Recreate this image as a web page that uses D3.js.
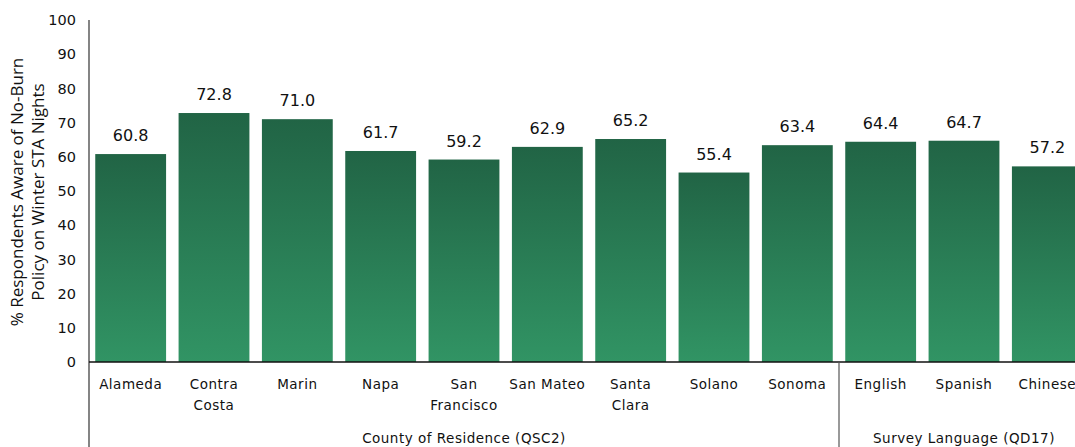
<!DOCTYPE html>
<html><head><meta charset="utf-8">
<script src="https://cdn.jsdelivr.net/npm/d3@7"></script>
<style>body{margin:0;background:#fff}svg{display:block}text{font-family:"DejaVu Sans",sans-serif;fill:#111}</style>
</head><body><svg id="c" width="1075" height="447"></svg>
<script>
const categories = [["Alameda"],["Contra","Costa"],["Marin"],["Napa"],["San","Francisco"],["San Mateo"],["Santa","Clara"],["Solano"],["Sonoma"],["English"],["Spanish"],["Chinese"]];
const values = [60.8,72.8,71.0,61.7,59.2,62.9,65.2,55.4,63.4,64.4,64.7,57.2];
const groups = ["County of Residence (QSC2)","Survey Language (QD17)"];
const groupSizes = [9,3];
const yTicks = [0,10,20,30,40,50,60,70,80,90,100];
const yTitle = ["% Respondents Aware of No-Burn","Policy on Winter STA Nights"];

(function(){
const svg = d3.select("#c");
const mL = 89, mR = 1089, mT = 20, mB = 362;
const idx = d3.range(values.length);
const x = d3.scaleBand().domain(idx).range([mL,mR]).paddingInner(0.15).paddingOuter(0.075);
const y = d3.scaleLinear().domain([0,100]).range([mB,mT]);

const defs = svg.append("defs");
const g = defs.append("linearGradient").attr("id","bg").attr("x1",0).attr("y1",0).attr("x2",0).attr("y2",1);
g.append("stop").attr("offset","0%").attr("stop-color","#216445");
g.append("stop").attr("offset","100%").attr("stop-color","#319464");

svg.append("g").selectAll("rect").data(values).join("rect")
  .attr("x",(d,i)=>x(i)).attr("width",x.bandwidth())
  .attr("y",d=>y(d)).attr("height",d=>y(0)-y(d)).attr("fill","url(#bg)");

svg.append("g").selectAll("text").data(values).join("text")
  .attr("x",(d,i)=>x(i)+x.bandwidth()/2).attr("y",d=>y(d)-13)
  .attr("text-anchor","middle").style("font-size","16px").text(d=>d.toFixed(1));

const ya = svg.append("g").attr("transform",`translate(${mL},0)`)
  .call(d3.axisLeft(y).tickValues(yTicks).tickSize(0).tickPadding(13));
ya.select(".domain").remove();
ya.selectAll("text").style("font-size","14.5px").style("font-family","DejaVu Sans, sans-serif").attr("fill","#111");
svg.append("line").attr("x1",mL).attr("x2",mL).attr("y1",mT).attr("y2",447).attr("stroke","#333").attr("stroke-width",1.2);
svg.append("line").attr("x1",mL).attr("x2",1075).attr("y1",mB).attr("y2",mB).attr("stroke","#111").attr("stroke-width",1.5);

const cl = svg.append("g").selectAll("text").data(categories).join("text")
  .attr("x",(d,i)=>x(i)+x.bandwidth()/2).attr("y",389)
  .attr("text-anchor","middle").style("font-size","13.5px").style("letter-spacing","0.5px");
cl.selectAll("tspan").data(d=>d).join("tspan")
  .attr("x",function(){return this.parentNode.getAttribute("x");})
  .attr("dy",(d,i)=>i?21:0).text(d=>d);

let start = 0;
groups.forEach((name,gi)=>{
  const end = start + groupSizes[gi];
  const x0 = mL + x.step()*start;
  const x1 = mL + x.step()*end;
  if (gi>0) svg.append("line").attr("x1",x0).attr("x2",x0).attr("y1",mB).attr("y2",447).attr("stroke","#555").attr("stroke-width",1.2);
  svg.append("text").attr("x",(x0+x1)/2).attr("y",443).attr("text-anchor","middle")
    .style("font-size","13.5px").style("letter-spacing","0.5px").text(name);
  start = end;
});

const yt = svg.append("text").attr("transform","translate(23,192) rotate(-90)").attr("text-anchor","middle")
  .style("font-size","17px").style("font-family","'Open Sans', sans-serif");
yt.selectAll("tspan").data(yTitle).join("tspan").attr("x",0).attr("dy",(d,i)=>i?21:0).text(d=>d);
})();
</script></body></html>
